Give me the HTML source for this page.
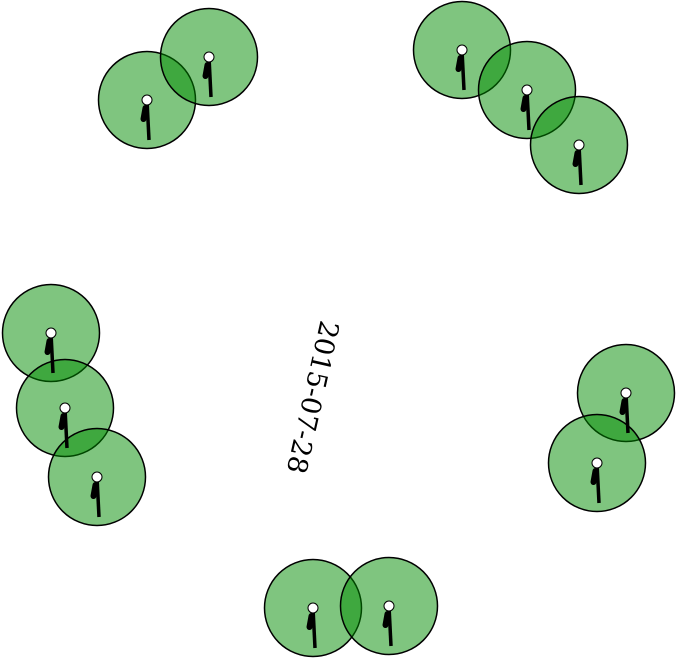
<!DOCTYPE html>
<html><head><style>html,body{margin:0;padding:0;background:#fff}svg{display:block}</style></head>
<body>
<svg width="676" height="659" xmlns="http://www.w3.org/2000/svg">
<g fill="rgb(0,140,0)" fill-opacity="0.5" stroke="#000" stroke-width="1.5">
<circle cx="147" cy="100" r="48.5"/><circle cx="209" cy="57" r="48.5"/>
<circle cx="462" cy="50" r="48.5"/><circle cx="527" cy="90" r="48.5"/><circle cx="579" cy="145" r="48.5"/>
<circle cx="51" cy="333" r="48.5"/><circle cx="65" cy="408" r="48.5"/><circle cx="97" cy="477" r="48.5"/>
<circle cx="626" cy="393" r="48.5"/><circle cx="597" cy="463" r="48.5"/>
<circle cx="313" cy="608" r="48.5"/><circle cx="389" cy="606" r="48.5"/>
</g>
<defs><g id="h">
<line x1="0" y1="0" x2="2" y2="40" stroke="#000" stroke-width="3.5"/>
<line x1="-1.5" y1="8" x2="-3.5" y2="19" stroke="#000" stroke-width="6" stroke-linecap="round"/>
<circle cx="0" cy="0" r="5" fill="#fff" stroke="#000" stroke-width="1"/>
</g></defs>
<use href="#h" x="147" y="100"/><use href="#h" x="209" y="57"/>
<use href="#h" x="462" y="50"/><use href="#h" x="527" y="90"/><use href="#h" x="579" y="145"/>
<use href="#h" x="51" y="333"/><use href="#h" x="65" y="408"/><use href="#h" x="97" y="477"/>
<use href="#h" x="626" y="393"/><use href="#h" x="597" y="463"/>
<use href="#h" x="313" y="608"/><use href="#h" x="389" y="606"/>
<text x="0" y="0" transform="translate(312,397) rotate(102.7)" text-anchor="middle" dominant-baseline="central" font-family="'DejaVu Serif','Liberation Serif',serif" font-size="27">2015-07-28</text>
</svg>
</body></html>
